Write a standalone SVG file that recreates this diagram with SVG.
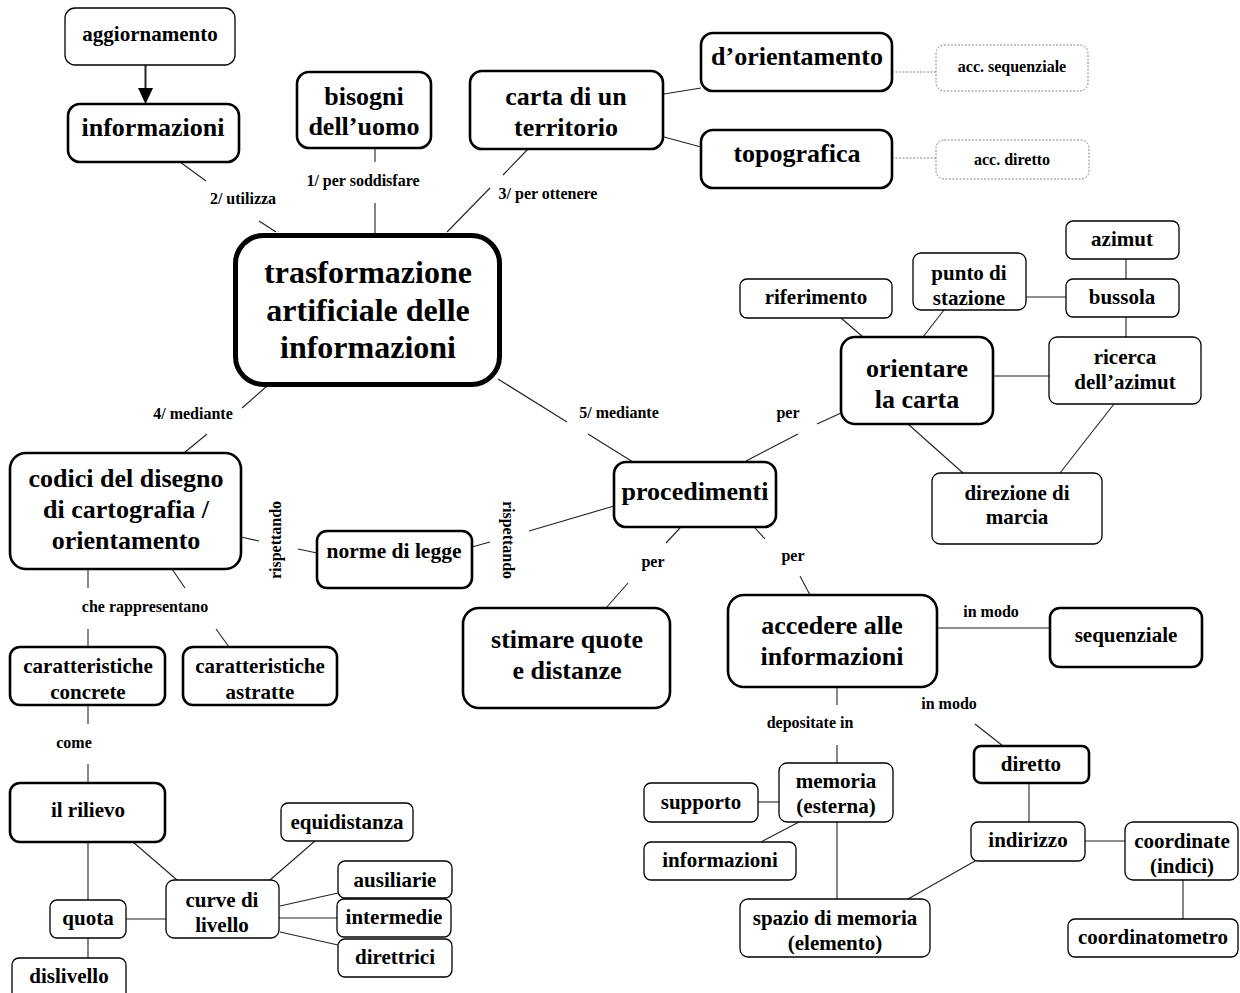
<svg xmlns="http://www.w3.org/2000/svg" width="1240" height="993" viewBox="0 0 1240 993">
<style>
rect{fill:#fff;stroke:#000}
.k{stroke-width:2.6}
.h{stroke-width:1.3}
.c{stroke-width:5}
.d{stroke:#888;stroke-width:1;stroke-dasharray:2 1.5}
text{font-family:"Liberation Serif","Times New Roman",serif;font-weight:bold;text-anchor:middle;fill:#000}
.f32{font-size:32px}.f26{font-size:26px}.f22{font-size:21.5px}.f21{font-size:21px}.f16{font-size:16px}
#conn line{stroke:#222;stroke-width:1.1}
#conn line.g{stroke:#888;stroke-dasharray:2 1.5}
</style>
<rect x="0" y="0" width="1240" height="993" style="fill:#fff;stroke:none"/>
<g id="conn">
<line x1="145.5" y1="65" x2="145.5" y2="89" style="stroke-width:2"/>
<polygon points="138,88 153,88 145.5,104" fill="#000"/>
<line x1="180" y1="162" x2="206" y2="181"/><line x1="259" y1="221" x2="276" y2="232"/>
<line x1="375" y1="148" x2="375" y2="162"/><line x1="375" y1="203" x2="375" y2="233"/>
<line x1="528" y1="149" x2="503" y2="175"/><line x1="490" y1="188" x2="447" y2="232"/>
<line x1="664" y1="94" x2="701" y2="88"/><line x1="664" y1="137" x2="701" y2="147"/>
<line class="g" x1="892" y1="72" x2="936" y2="72"/><line class="g" x1="892" y1="158" x2="936" y2="158"/>
<line x1="267" y1="386" x2="242" y2="408"/><line x1="207" y1="434" x2="184" y2="453"/>
<line x1="498" y1="379" x2="567" y2="422"/><line x1="588" y1="434" x2="633" y2="462"/>
<line x1="746" y1="461" x2="798" y2="434"/><line x1="817" y1="424" x2="841" y2="413"/>
<line x1="680" y1="528" x2="666" y2="543"/><line x1="628" y1="583" x2="606" y2="608"/>
<line x1="755" y1="528" x2="765" y2="539"/><line x1="800" y1="576" x2="810" y2="595"/>
<line x1="614" y1="506" x2="529" y2="531"/><line x1="490" y1="542" x2="472" y2="547"/>
<line x1="317" y1="553" x2="298" y2="549"/><line x1="259" y1="541" x2="241" y2="537"/>
<line x1="88" y1="569" x2="88" y2="588"/><line x1="88" y1="629" x2="88" y2="647"/>
<line x1="172" y1="569" x2="185" y2="588"/><line x1="216" y1="629" x2="229" y2="647"/>
<line x1="88" y1="705" x2="88" y2="724"/><line x1="88" y1="764" x2="88" y2="783"/>
<line x1="88" y1="842" x2="88" y2="900"/><line x1="133" y1="842" x2="177" y2="880"/>
<line x1="126" y1="919" x2="166" y2="919"/><line x1="88" y1="938" x2="88" y2="958"/>
<line x1="270" y1="880" x2="315" y2="841"/><line x1="280" y1="906" x2="338" y2="893"/>
<line x1="279" y1="918" x2="337" y2="918"/><line x1="280" y1="932" x2="338" y2="945"/>
<line x1="1126" y1="259" x2="1126" y2="279"/><line x1="1026" y1="297" x2="1066" y2="297"/>
<line x1="841" y1="318" x2="863" y2="337"/><line x1="944" y1="310" x2="923" y2="337"/>
<line x1="1126" y1="317" x2="1126" y2="337"/><line x1="993" y1="376" x2="1049" y2="376"/>
<line x1="908" y1="424" x2="963" y2="473"/><line x1="1114" y1="404" x2="1060" y2="473"/>
<line x1="937" y1="628" x2="1050" y2="628"/>
<line x1="837" y1="687" x2="837" y2="705"/><line x1="837" y1="745" x2="837" y2="763"/>
<line x1="975" y1="724" x2="1003" y2="746"/>
<line x1="1029" y1="783" x2="1029" y2="822"/><line x1="1085" y1="841" x2="1125" y2="841"/>
<line x1="1183" y1="880" x2="1183" y2="919"/><line x1="975" y1="861" x2="908" y2="899"/>
<line x1="758" y1="802" x2="779" y2="802"/><line x1="799" y1="822" x2="761" y2="842"/>
<line x1="837" y1="822" x2="837" y2="899"/>
</g>
<g id="labels" class="f16">
<text x="243" y="204">2/ utilizza</text>
<text x="363" y="186">1/ per soddisfare</text>
<text x="548" y="199">3/ per ottenere</text>
<text x="193" y="419">4/ mediante</text>
<text x="619" y="418">5/ mediante</text>
<text x="788" y="418">per</text>
<text x="653" y="567">per</text>
<text x="793" y="561">per</text>
<text transform="translate(281,540) rotate(-90)">rispettando</text>
<text transform="translate(503,540) rotate(90)">rispettando</text>
<text x="145" y="612">che rappresentano</text>
<text x="74" y="748">come</text>
<text x="991" y="617">in modo</text>
<text x="949" y="709">in modo</text>
<text x="810" y="728">depositate in</text>
</g>
<g id="n-aggiornamento"><rect class="h" x="65" y="8" width="170" height="57" rx="10"/><text class="f21" x="150" y="41">aggiornamento</text></g>
<g id="n-informazioni1"><rect class="k" x="68" y="104" width="171" height="58" rx="12"/><text class="f26" x="153" y="136">informazioni</text></g>
<g id="n-bisogni"><rect class="k" x="297" y="72" width="134" height="76" rx="12"/><text class="f26" x="364" y="105">bisogni</text><text class="f26" x="364" y="135">dell’uomo</text></g>
<g id="n-carta"><rect class="k" x="470" y="71" width="193" height="78" rx="12"/><text class="f26" x="566" y="105">carta di un</text><text class="f26" x="566" y="136">territorio</text></g>
<g id="n-orientamento"><rect class="k" x="701" y="33" width="191" height="58" rx="12"/><text class="f26" x="797" y="65">d’orientamento</text></g>
<g id="n-topografica"><rect class="k" x="701" y="130" width="191" height="58" rx="12"/><text class="f26" x="797" y="162">topografica</text></g>
<g id="n-accseq"><rect class="d" x="936" y="45" width="152" height="46" rx="8"/><text class="f16" x="1012" y="72">acc. sequenziale</text></g>
<g id="n-accdir"><rect class="d" x="936" y="140" width="153" height="39" rx="8"/><text class="f16" x="1012" y="165">acc. diretto</text></g>
<g id="n-central"><rect class="c" x="235.5" y="235.5" width="264" height="149" rx="28"/><text class="f32" x="368" y="283">trasformazione</text><text class="f32" x="368" y="321">artificiale delle</text><text class="f32" x="368" y="358">informazioni</text></g>
<g id="n-codici"><rect class="k" x="10" y="453" width="231" height="116" rx="16"/><text class="f26" x="126" y="487">codici del disegno</text><text class="f26" x="126" y="518">di cartografia /</text><text class="f26" x="126" y="549">orientamento</text></g>
<g id="n-norme"><rect class="k" x="317" y="531" width="155" height="57" rx="10"/><text class="f22" x="394" y="558">norme di legge</text></g>
<g id="n-procedimenti"><rect class="k" x="614" y="462" width="162" height="65" rx="12"/><text class="f26" x="695" y="500">procedimenti</text></g>
<g id="n-stimare"><rect class="k" x="463" y="608" width="207" height="100" rx="16"/><text class="f26" x="567" y="648">stimare quote</text><text class="f26" x="567" y="679">e distanze</text></g>
<g id="n-accedere"><rect class="k" x="728" y="595" width="209" height="92" rx="16"/><text class="f26" x="832" y="634">accedere alle</text><text class="f26" x="832" y="665">informazioni</text></g>
<g id="n-sequenziale"><rect class="k" x="1050" y="608" width="152" height="59" rx="10"/><text class="f21" x="1126" y="642">sequenziale</text></g>
<g id="n-diretto"><rect class="k" x="974" y="746" width="115" height="37" rx="7"/><text class="f21" x="1031" y="771">diretto</text></g>
<g id="n-memoria"><rect class="h" x="779" y="763" width="114" height="59" rx="8"/><text class="f21" x="836" y="788">memoria</text><text class="f21" x="836" y="813">(esterna)</text></g>
<g id="n-supporto"><rect class="h" x="644" y="783" width="114" height="39" rx="7"/><text class="f21" x="701" y="809">supporto</text></g>
<g id="n-informazioni2"><rect class="h" x="644" y="842" width="152" height="38" rx="7"/><text class="f21" x="720" y="867">informazioni</text></g>
<g id="n-spazio"><rect class="h" x="740" y="899" width="190" height="58" rx="8"/><text class="f21" x="835" y="925">spazio di memoria</text><text class="f21" x="835" y="950">(elemento)</text></g>
<g id="n-indirizzo"><rect class="h" x="971" y="822" width="114" height="39" rx="7"/><text class="f21" x="1028" y="847">indirizzo</text></g>
<g id="n-coordinate"><rect class="h" x="1125" y="822" width="113" height="58" rx="8"/><text class="f21" x="1182" y="848">coordinate</text><text class="f21" x="1182" y="873">(indici)</text></g>
<g id="n-coordinatometro"><rect class="h" x="1068" y="919" width="170" height="38" rx="7"/><text class="f21" x="1153" y="944">coordinatometro</text></g>
<g id="n-azimut"><rect class="h" x="1066" y="221" width="113" height="38" rx="7"/><text class="f21" x="1122" y="246">azimut</text></g>
<g id="n-bussola"><rect class="h" x="1066" y="279" width="113" height="38" rx="7"/><text class="f21" x="1122" y="304">bussola</text></g>
<g id="n-punto"><rect class="h" x="913" y="253" width="113" height="57" rx="8"/><text class="f21" x="969" y="280">punto di</text><text class="f21" x="969" y="305">stazione</text></g>
<g id="n-riferimento"><rect class="h" x="740" y="279" width="152" height="39" rx="7"/><text class="f21" x="816" y="304">riferimento</text></g>
<g id="n-orientare"><rect class="k" x="841" y="337" width="152" height="87" rx="14"/><text class="f26" x="917" y="377">orientare</text><text class="f26" x="917" y="408">la carta</text></g>
<g id="n-ricerca"><rect class="h" x="1049" y="337" width="152" height="67" rx="8"/><text class="f21" x="1125" y="364">ricerca</text><text class="f21" x="1125" y="389">dell’azimut</text></g>
<g id="n-direzione"><rect class="h" x="932" y="473" width="170" height="71" rx="8"/><text class="f21" x="1017" y="500">direzione di</text><text class="f21" x="1017" y="524">marcia</text></g>
<g id="n-concrete"><rect class="k" x="10" y="647" width="155" height="58" rx="10"/><text class="f21" x="88" y="673">caratteristiche</text><text class="f21" x="88" y="699">concrete</text></g>
<g id="n-astratte"><rect class="k" x="183" y="647" width="154" height="58" rx="10"/><text class="f21" x="260" y="673">caratteristiche</text><text class="f21" x="260" y="699">astratte</text></g>
<g id="n-rilievo"><rect class="k" x="10" y="783" width="155" height="59" rx="10"/><text class="f21" x="88" y="817">il rilievo</text></g>
<g id="n-quota"><rect class="h" x="50" y="900" width="76" height="38" rx="7"/><text class="f21" x="88" y="925">quota</text></g>
<g id="n-dislivello"><rect class="h" x="12" y="958" width="114" height="42" rx="7"/><text class="f21" x="69" y="983">dislivello</text></g>
<g id="n-curve"><rect class="h" x="166" y="880" width="113" height="58" rx="8"/><text class="f21" x="222" y="907">curve di</text><text class="f21" x="222" y="932">livello</text></g>
<g id="n-equidistanza"><rect class="h" x="281" y="803" width="132" height="38" rx="7"/><text class="f21" x="347" y="829">equidistanza</text></g>
<g id="n-ausiliarie"><rect class="h" x="338" y="861" width="114" height="37" rx="7"/><text class="f21" x="395" y="887">ausiliarie</text></g>
<g id="n-intermedie"><rect class="h" x="337" y="899" width="114" height="38" rx="7"/><text class="f21" x="394" y="924">intermedie</text></g>
<g id="n-direttrici"><rect class="h" x="338" y="939" width="114" height="38" rx="7"/><text class="f21" x="395" y="964">direttrici</text></g>
</svg>
